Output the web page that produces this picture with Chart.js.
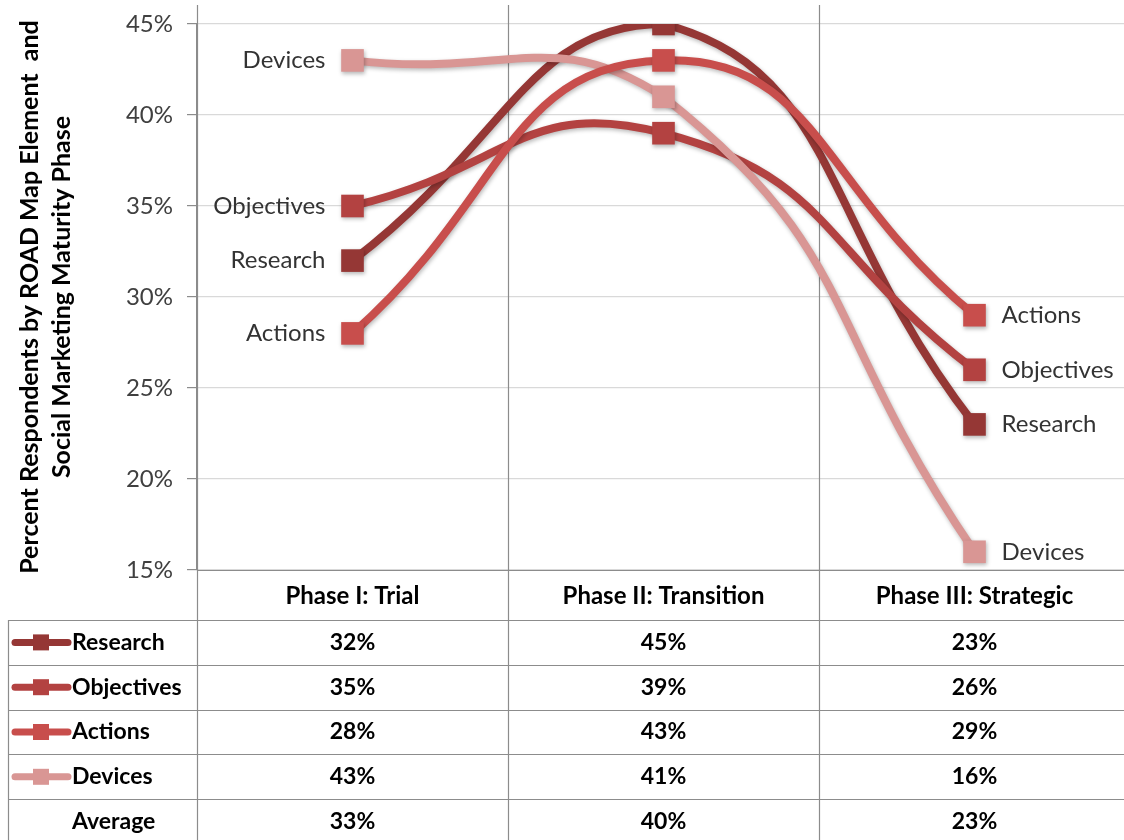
<!DOCTYPE html>
<html>
<head>
<meta charset="utf-8">
<script src="https://cdn.jsdelivr.net/npm/chart.js@4.4.0/dist/chart.umd.min.js"></script>
<style>
  html, body { margin: 0; padding: 0; background: #fff; overflow: hidden; }
  #wrap { position: relative; width: 1146px; height: 840px; }
</style>
</head>
<body>
<div id="wrap"><canvas id="chart"></canvas></div>
<script>
const phases = ['Phase I: Trial', 'Phase II: Transition', 'Phase III: Strategic'];
const seriesNames = ['Research', 'Objectives', 'Actions', 'Devices'];
const research = [32, 45, 23];
const objectives = [35, 39, 26];
const actions = [28, 43, 29];
const devices = [43, 41, 16];
const averages = [33, 40, 23];
const yMin = 15, yMax = 45, yStep = 5;
const colors = ['#953735', '#B34241', '#C84E4C', '#D99694'];
const seriesValues = [research, objectives, actions, devices];

const FONT = 'Lato, "Open Sans", sans-serif';
const GRID_DARK = '#8c8c8c';

// table under the plot: header row, one row per series, then the average
const tableTop = 570;
const headerH = 50;
const rowH = 44.8;
const tableLeft = 8;

const tablePlugin = {
  id: 'phaseTable',
  beforeDatasetsDraw(chart) {
    const ctx = chart.ctx;
    const x = chart.scales.x;
    const half = (x.getPixelForValue(1) - x.getPixelForValue(0)) / 2;
    ctx.save();
    ctx.strokeStyle = GRID_DARK;
    ctx.lineWidth = 1.2;
    // column dividers, running from the top of the plot to the bottom of the table
    ctx.beginPath();
    for (let i = 0; i < phases.length; i++) {
      const bx = Math.round(x.getPixelForValue(i) - half) + 0.5;
      ctx.moveTo(bx, 5);
      ctx.lineTo(bx, chart.height);
    }
    ctx.stroke();
    ctx.restore();
  },
  afterDraw(chart) {
    const ctx = chart.ctx;
    const x = chart.scales.x;
    const area = chart.chartArea;
    const W = chart.width;
    const rows = seriesNames.length + 1;
    ctx.save();
    ctx.strokeStyle = GRID_DARK;
    ctx.lineWidth = 1.2;
    ctx.beginPath();
    ctx.moveTo(area.left, tableTop + 0.5);
    ctx.lineTo(W, tableTop + 0.5);
    for (let r = 0; r < rows; r++) {
      const ry = Math.round(tableTop + headerH + r * rowH) + 0.5;
      ctx.moveTo(tableLeft, ry);
      ctx.lineTo(W, ry);
    }
    ctx.moveTo(tableLeft + 0.5, tableTop + headerH);
    ctx.lineTo(tableLeft + 0.5, chart.height);
    ctx.stroke();

    // header
    ctx.fillStyle = '#000';
    ctx.textAlign = 'center';
    ctx.textBaseline = 'middle';
    ctx.font = 'bold 24px ' + FONT;
    phases.forEach((p, i) => {
      ctx.fillText(p, x.getPixelForValue(i), tableTop + headerH / 2 + 1);
    });

    // series rows with a small line-and-marker key
    const rowLabels = seriesNames.concat(['Average']);
    const rowValues = seriesValues.concat([averages]);
    rowLabels.forEach((name, r) => {
      const cy = tableTop + headerH + r * rowH + rowH / 2;
      if (r < seriesNames.length) {
        ctx.strokeStyle = colors[r];
        ctx.lineWidth = 7;
        ctx.lineCap = 'round';
        ctx.beginPath();
        ctx.moveTo(15, cy);
        ctx.lineTo(68, cy);
        ctx.stroke();
        ctx.fillStyle = colors[r];
        ctx.fillRect(33, cy - 8, 16, 16);
      }
      ctx.fillStyle = '#000';
      ctx.font = 'bold 23px ' + FONT;
      ctx.textAlign = 'left';
      ctx.fillText(name, 72, cy);
      ctx.textAlign = 'center';
      rowValues[r].forEach((v, i) => {
        ctx.fillText(v + '%', x.getPixelForValue(i), cy);
      });
    });
    ctx.restore();
  }
};

const endLabelPlugin = {
  id: 'endLabels',
  beforeDatasetsDraw(chart) {
    const ctx = chart.ctx;
    ctx.save();
    ctx.shadowColor = 'rgba(0,0,0,0.28)';
    ctx.shadowBlur = 4;
    ctx.shadowOffsetX = 1;
    ctx.shadowOffsetY = 2;
  },
  afterDatasetsDraw(chart) {
    const ctx = chart.ctx;
    ctx.restore();
    ctx.save();
    ctx.fillStyle = '#333';
    ctx.font = '24px ' + FONT;
    ctx.textBaseline = 'middle';
    chart.data.datasets.forEach((ds, i) => {
      const pts = chart.getDatasetMeta(i).data;
      const first = pts[0];
      const last = pts[pts.length - 1];
      ctx.textAlign = 'right';
      ctx.fillText(ds.label, first.x - 27, first.y);
      ctx.textAlign = 'left';
      ctx.fillText(ds.label, last.x + 27, last.y);
    });
    ctx.restore();
  }
};

const drawOrder = [3, 2, 0, 1];

new Chart(document.getElementById('chart'), {
  type: 'line',
  data: {
    labels: phases,
    datasets: seriesNames.map((name, i) => ({
      label: name,
      data: seriesValues[i],
      borderColor: colors[i],
      backgroundColor: colors[i],
      borderWidth: 8,
      tension: 0.5,
      pointStyle: 'rect',
      pointRadius: 16,
      pointHoverRadius: 16,
      pointBorderWidth: 0,
      order: drawOrder[i]
    }))
  },
  options: {
    responsive: true,
    maintainAspectRatio: false,
    animation: false,
    layout: { padding: { top: 24, bottom: 270, right: 0, left: 0 } },
    plugins: {
      legend: { display: false },
      tooltip: { enabled: false }
    },
    scales: {
      x: {
        display: false,
        offset: true
      },
      y: {
        min: yMin,
        max: yMax,
        afterFit(scale) { scale.width = 197; },
        ticks: {
          stepSize: yStep,
          padding: 14,
          color: '#404040',
          font: { family: FONT, size: 24, lineHeight: 0.8 },
          callback: v => v + '%'
        },
        grid: {
          color: '#d9d9d9',
          lineWidth: 1.2,
          tickLength: 10,
          tickColor: GRID_DARK
        },
        border: { color: GRID_DARK, width: 1.2 },
        title: {
          display: true,
          text: ['Percent Respondents by ROAD Map Element  and', 'Social Marketing Maturity Phase'],
          color: '#000',
          font: { family: FONT, size: 25, weight: 'bold', lineHeight: 1.28 },
          padding: { top: 14, bottom: 0 }
        }
      }
    }
  },
  plugins: [tablePlugin, endLabelPlugin]
});
</script>
</body>
</html>
